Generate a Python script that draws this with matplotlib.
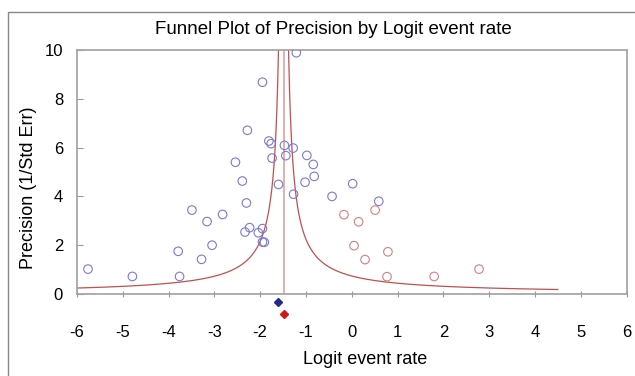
import numpy as np
import matplotlib
matplotlib.use("Agg")
import matplotlib.pyplot as plt
from matplotlib.patches import Rectangle

plt.rcParams["font.family"] = ["Liberation Sans", "DejaVu Sans"]

# observed studies (logit event rate, precision)
obs_x = [-5.76, -4.79, -3.79, -3.76, -3.49, -3.28, -3.16, -3.05, -2.82, -2.54,
         -2.39, -2.28, -2.30, -2.33, -2.23, -2.04, -1.95, -1.95, -1.91, -1.95,
         -1.81, -1.76, -1.74, -1.60, -1.47, -1.44, -1.28, -1.27, -1.21, -0.98,
         -0.84, -1.02, -0.82, 0.02, -0.43, 0.59]
obs_y = [1.02, 0.72, 1.75, 0.72, 3.44, 1.42, 2.97, 2.00, 3.26, 5.40,
         4.63, 6.71, 3.73, 2.54, 2.72, 2.51, 2.68, 2.13, 2.12, 8.68,
         6.27, 6.16, 5.57, 4.49, 6.09, 5.67, 5.98, 4.09, 9.89, 5.68,
         5.31, 4.58, 4.82, 4.52, 4.00, 3.80]

# imputed studies (trim and fill)
imp_x = [-0.17, 0.15, 0.51, 0.05, 0.79, 0.29, 0.77, 1.80, 2.78]
imp_y = [3.25, 2.96, 3.44, 1.98, 1.73, 1.41, 0.71, 0.72, 1.02]

obs_mean = -1.60
adj_mean = -1.48
funnel_center = -1.49
funnel_k = 1.1
funnel_right_end = 4.5

x_ticks = list(range(-6, 7))
y_ticks = [0, 2, 4, 6, 8, 10]

fig = plt.figure(figsize=(6.35, 3.76), dpi=100)
fig.patches.append(Rectangle((7.5 / 635, -0.1), 1.1, 1 - 11.5 / 376 + 0.1,
                             transform=fig.transFigure, fill=False,
                             edgecolor="#888888", linewidth=1.0))
ax = fig.add_axes([77 / 635, 1 - 294 / 376, 549.5 / 635, 244 / 376])

# funnel limits
prec = np.linspace(funnel_k / (funnel_right_end - funnel_center), 40, 4000)
ax.plot(funnel_center - funnel_k / prec, prec, color="#c0504d", lw=0.9)
ax.plot(funnel_center + funnel_k / prec, prec, color="#c0504d", lw=0.9)
ax.plot([funnel_center, funnel_center], [0, 10], color="#dc9a9a", lw=1.1)

ax.scatter(obs_x, obs_y, s=38, facecolors="none", edgecolors="#7a7ad0", linewidths=0.8, zorder=3)
ax.scatter(imp_x, imp_y, s=38, facecolors="none", edgecolors="#d48080", linewidths=0.8, zorder=3)

ax.plot([obs_mean], [-0.33], marker="D", ms=4, color="#1f2a8a", clip_on=False)
ax.plot([adj_mean], [-0.82], marker="D", ms=4, color="#d01818", clip_on=False)

ax.set_xlim(-6, 6)
ax.set_ylim(0, 10)
ax.set_xticks(x_ticks)
ax.set_yticks(y_ticks)
ax.set_xticklabels([str(t) for t in x_ticks])
ax.set_yticklabels([str(t) for t in y_ticks])
ax.tick_params(axis="x", direction="inout", length=5, color="#999999", pad=20, labelsize=12)
ax.tick_params(axis="y", direction="in", length=4, color="#999999", pad=10, labelsize=12)
for side in ["left", "top", "bottom", "right"]:
    ax.spines[side].set_color("#a0a0a0")
    ax.spines[side].set_linewidth(1.2)

fig.text(365 / 635, 1 - 359 / 376, "Logit event rate", ha="center", va="center", fontsize=13)
fig.text(29 / 635, 1 - 187.5 / 376, "Precision (1/Std Err)", ha="center", va="center",
         rotation=90, fontsize=13)
fig.text(155 / 635, 1 - 30 / 376, "Funnel Plot of Precision by Logit event rate",
         ha="left", va="center", fontsize=13.5)

fig.savefig("out.png", dpi=100)
